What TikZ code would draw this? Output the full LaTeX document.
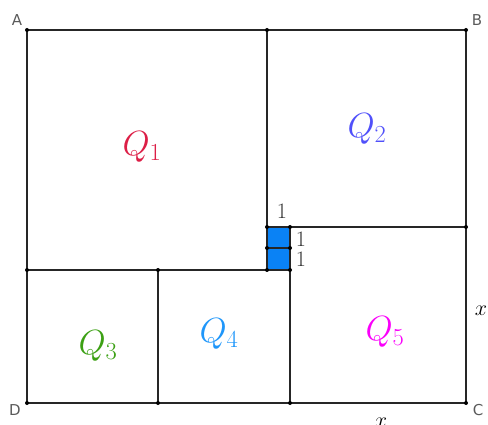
\RequirePackage{fix-cm}
\documentclass[tikz,border=0pt]{standalone}
\usepackage{fontspec}
\newfontfamily\lblfont{DejaVu Sans}
\definecolor{qone}{RGB}{220,30,70}
\definecolor{qtwo}{RGB}{80,80,250}
\definecolor{qthree}{RGB}{60,160,20}
\definecolor{qfour}{RGB}{30,150,250}
\definecolor{qfive}{RGB}{250,0,250}
\definecolor{sqblue}{RGB}{10,130,245}
\definecolor{lblgray}{RGB}{90,90,90}
\begin{document}
\begin{tikzpicture}[x=1pt,y=-1pt,
  edge/.style={line width=2pt,draw=black!85},
  pt/.style={circle,fill=black,inner sep=0pt,minimum size=4pt},
  vlbl/.style={font=\lblfont\fontsize{15}{17}\selectfont,text=lblgray,inner sep=0pt},
  qlbl/.style={font=\fontsize{35}{40}\selectfont,inner sep=0pt},
  onelbl/.style={font=\fontsize{22}{24}\selectfont,text=black!80,inner sep=0pt},
  xlbl/.style={font=\fontsize{22}{24}\selectfont,inner sep=0pt}]
\useasboundingbox (0,0) rectangle (488,425);
\clip (0,0) rectangle (488,425);
% points
\coordinate (A) at (27,30);
\coordinate (B) at (466,30);
\coordinate (C) at (466,403);
\coordinate (D) at (27,403);
\coordinate (T) at (267,30);
\coordinate (L) at (27,270);
\coordinate (M) at (158,270);
\coordinate (Mb) at (158,403);
\coordinate (S1) at (267,227);
\coordinate (S2) at (290,227);
\coordinate (S3) at (267,248);
\coordinate (S4) at (290,248);
\coordinate (S5) at (267,270);
\coordinate (S6) at (290,270);
\coordinate (R) at (466,227);
\coordinate (Sb) at (290,403);
% blue squares
\fill[sqblue] (S1) rectangle (S6);
% lines
\draw[edge] (A) -- (B) -- (C) -- (D) -- cycle;
\draw[edge] (T) -- (S5);
\draw[edge] (L) -- (S6);
\draw[edge] (M) -- (Mb);
\draw[edge] (S2) -- (Sb);
\draw[edge] (S1) -- (R);
\draw[edge] (S3) -- (S4);
% dots
\foreach \p in {A,B,C,D,T,L,M,Mb,S1,S2,S3,S4,S5,S6,R,Sb}
  \node[pt] at (\p) {};
% vertex labels
\node[vlbl] (la) at (17,20) {A};
\node[vlbl] (lb) at (477,20) {B};
\node[vlbl] (lc) at (478,410) {C};
\node[vlbl] (ld) at (15,410) {D};
% Q labels
\node[qlbl,text=qone] (q1) at (142,147) {$Q_1$};
\node[qlbl,text=qtwo] (q2) at (367,129) {$Q_2$};
\node[qlbl,text=qthree] (q3) at (98,346) {$Q_3$};
\node[qlbl,text=qfour] (q4) at (219,334) {$Q_4$};
\node[qlbl,text=qfive] (q5) at (385,332) {$Q_5$};
% ones
\node[onelbl] (o1) at (282,211) {1};
\node[onelbl] (o2) at (301,239) {1};
\node[onelbl] (o3) at (301,259) {1};
% x labels
\node[xlbl] (xr) at (481,311) {$x$};
\node[xlbl] (xb) at (381,423) {$x$};
\end{tikzpicture}
\end{document}
